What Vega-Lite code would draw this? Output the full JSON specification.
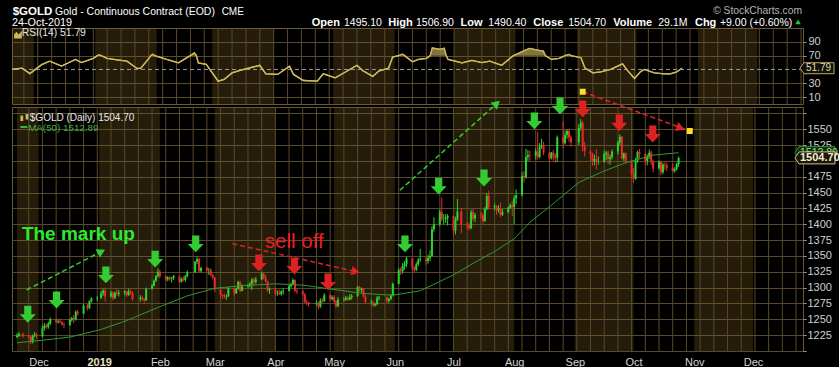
{
  "$schema": "https://vega.github.io/schema/vega-lite/v6.json",
  "autosize": {"type": "pad"},
  "padding": {"top": 5, "left": 8, "right": 0, "bottom": 0},
  "background": "#000000",
  "bounds": "flush",
  "spacing": 3,
  "config": {
    "font": "Liberation Sans",
    "view": {"stroke": "#6b5a36", "strokeWidth": 1},
    "axis": {"labelFont": "Liberation Sans", "labelColor": "#cfcfcf", "labelFontSize": 11, "gridColor": "#574a2c", "gridOpacity": 1, "gridWidth": 1, "domain": false, "tickColor": "#9a9a9a", "tickSize": 3, "labelFlush": false, "labelOverlap": false}
  },
  "datasets": {
    "mo": [
      {"d": "2018-11-20", "e": "2018-12-01"},
      {"d": "2019-01-01", "e": "2019-02-01"},
      {"d": "2019-03-01", "e": "2019-04-01"},
      {"d": "2019-05-01", "e": "2019-06-01"},
      {"d": "2019-07-01", "e": "2019-08-01"},
      {"d": "2019-09-01", "e": "2019-10-01"},
      {"d": "2019-11-01", "e": "2019-12-01"}
    ],
    "wk": [
      {"d": "2018-11-26"}, {"d": "2018-12-03"}, {"d": "2018-12-10"}, {"d": "2018-12-17"}, {"d": "2018-12-24"}, {"d": "2018-12-31"},
      {"d": "2019-01-07"}, {"d": "2019-01-14"}, {"d": "2019-01-21"}, {"d": "2019-01-28"}, {"d": "2019-02-04"}, {"d": "2019-02-11"},
      {"d": "2019-02-18"}, {"d": "2019-02-25"}, {"d": "2019-03-04"}, {"d": "2019-03-11"}, {"d": "2019-03-18"}, {"d": "2019-03-25"},
      {"d": "2019-04-01"}, {"d": "2019-04-08"}, {"d": "2019-04-15"}, {"d": "2019-04-22"}, {"d": "2019-04-29"}, {"d": "2019-05-06"},
      {"d": "2019-05-13"}, {"d": "2019-05-20"}, {"d": "2019-05-27"}, {"d": "2019-06-03"}, {"d": "2019-06-10"}, {"d": "2019-06-17"},
      {"d": "2019-06-24"}, {"d": "2019-07-01"}, {"d": "2019-07-08"}, {"d": "2019-07-15"}, {"d": "2019-07-22"}, {"d": "2019-07-29"},
      {"d": "2019-08-05"}, {"d": "2019-08-12"}, {"d": "2019-08-19"}, {"d": "2019-08-26"}, {"d": "2019-09-02"}, {"d": "2019-09-09"},
      {"d": "2019-09-16"}, {"d": "2019-09-23"}, {"d": "2019-09-30"}, {"d": "2019-10-07"}, {"d": "2019-10-14"}, {"d": "2019-10-21"},
      {"d": "2019-10-28"}, {"d": "2019-11-04"}, {"d": "2019-11-11"}, {"d": "2019-11-18"}, {"d": "2019-11-25"}, {"d": "2019-12-02"},
      {"d": "2019-12-09"}, {"d": "2019-12-16"}, {"d": "2019-12-23"}
    ],
    "px": [
      {"d":"2018-11-20","o":1222,"h":1228,"l":1220,"c":1224},
      {"d":"2018-11-21","o":1224,"h":1230,"l":1222,"c":1227},
      {"d":"2018-11-23","o":1227,"h":1229,"l":1221,"c":1223},
      {"d":"2018-11-26","o":1223,"h":1226,"l":1219,"c":1222},
      {"d":"2018-11-27","o":1222,"h":1224,"l":1211,"c":1214},
      {"d":"2018-11-28","o":1214,"h":1226,"l":1212,"c":1224},
      {"d":"2018-11-29","o":1224,"h":1230,"l":1222,"c":1226},
      {"d":"2018-11-30","o":1226,"h":1228,"l":1219,"c":1223},
      {"d":"2018-12-03","o":1223,"h":1240,"l":1222,"c":1236},
      {"d":"2018-12-04","o":1236,"h":1244,"l":1232,"c":1240},
      {"d":"2018-12-05","o":1240,"h":1243,"l":1235,"c":1238},
      {"d":"2018-12-06","o":1238,"h":1246,"l":1235,"c":1243},
      {"d":"2018-12-07","o":1243,"h":1253,"l":1241,"c":1250},
      {"d":"2018-12-10","o":1250,"h":1252,"l":1244,"c":1246},
      {"d":"2018-12-11","o":1246,"h":1250,"l":1243,"c":1247},
      {"d":"2018-12-12","o":1247,"h":1251,"l":1244,"c":1245},
      {"d":"2018-12-13","o":1245,"h":1247,"l":1240,"c":1242},
      {"d":"2018-12-14","o":1242,"h":1245,"l":1236,"c":1241},
      {"d":"2018-12-17","o":1241,"h":1251,"l":1240,"c":1249},
      {"d":"2018-12-18","o":1249,"h":1254,"l":1246,"c":1252},
      {"d":"2018-12-19","o":1252,"h":1257,"l":1244,"c":1250},
      {"d":"2018-12-20","o":1250,"h":1264,"l":1248,"c":1262},
      {"d":"2018-12-21","o":1262,"h":1265,"l":1256,"c":1259},
      {"d":"2018-12-24","o":1259,"h":1274,"l":1258,"c":1272},
      {"d":"2018-12-26","o":1272,"h":1274,"l":1264,"c":1268},
      {"d":"2018-12-27","o":1268,"h":1280,"l":1266,"c":1279},
      {"d":"2018-12-28","o":1279,"h":1285,"l":1276,"c":1283},
      {"d":"2018-12-31","o":1283,"h":1287,"l":1279,"c":1284},
      {"d":"2019-01-02","o":1284,"h":1295,"l":1282,"c":1291},
      {"d":"2019-01-03","o":1291,"h":1298,"l":1287,"c":1295},
      {"d":"2019-01-04","o":1295,"h":1300,"l":1278,"c":1286},
      {"d":"2019-01-07","o":1286,"h":1295,"l":1284,"c":1292},
      {"d":"2019-01-08","o":1292,"h":1294,"l":1280,"c":1284},
      {"d":"2019-01-09","o":1284,"h":1294,"l":1282,"c":1292},
      {"d":"2019-01-10","o":1292,"h":1298,"l":1287,"c":1290},
      {"d":"2019-01-11","o":1290,"h":1296,"l":1286,"c":1292},
      {"d":"2019-01-14","o":1292,"h":1296,"l":1288,"c":1294},
      {"d":"2019-01-15","o":1294,"h":1295,"l":1285,"c":1288},
      {"d":"2019-01-16","o":1288,"h":1298,"l":1287,"c":1294},
      {"d":"2019-01-17","o":1294,"h":1297,"l":1289,"c":1292},
      {"d":"2019-01-18","o":1292,"h":1294,"l":1279,"c":1282},
      {"d":"2019-01-22","o":1282,"h":1288,"l":1278,"c":1284},
      {"d":"2019-01-23","o":1284,"h":1287,"l":1279,"c":1282},
      {"d":"2019-01-24","o":1282,"h":1284,"l":1276,"c":1280},
      {"d":"2019-01-25","o":1280,"h":1300,"l":1279,"c":1298},
      {"d":"2019-01-28","o":1298,"h":1306,"l":1297,"c":1303},
      {"d":"2019-01-29","o":1303,"h":1313,"l":1302,"c":1311},
      {"d":"2019-01-30","o":1311,"h":1320,"l":1309,"c":1318},
      {"d":"2019-01-31","o":1318,"h":1330,"l":1316,"c":1325},
      {"d":"2019-02-01","o":1325,"h":1328,"l":1315,"c":1318},
      {"d":"2019-02-04","o":1318,"h":1319,"l":1310,"c":1313},
      {"d":"2019-02-05","o":1313,"h":1318,"l":1310,"c":1316},
      {"d":"2019-02-06","o":1316,"h":1318,"l":1311,"c":1314},
      {"d":"2019-02-07","o":1314,"h":1317,"l":1308,"c":1315},
      {"d":"2019-02-08","o":1315,"h":1320,"l":1312,"c":1318},
      {"d":"2019-02-11","o":1318,"h":1319,"l":1307,"c":1309},
      {"d":"2019-02-12","o":1309,"h":1316,"l":1308,"c":1314},
      {"d":"2019-02-13","o":1314,"h":1318,"l":1310,"c":1312},
      {"d":"2019-02-14","o":1312,"h":1320,"l":1309,"c":1318},
      {"d":"2019-02-15","o":1318,"h":1327,"l":1316,"c":1324},
      {"d":"2019-02-19","o":1324,"h":1342,"l":1323,"c":1341},
      {"d":"2019-02-20","o":1341,"h":1349,"l":1337,"c":1345},
      {"d":"2019-02-21","o":1345,"h":1347,"l":1323,"c":1326},
      {"d":"2019-02-22","o":1326,"h":1333,"l":1324,"c":1331},
      {"d":"2019-02-25","o":1331,"h":1333,"l":1325,"c":1328},
      {"d":"2019-02-26","o":1328,"h":1331,"l":1320,"c":1328},
      {"d":"2019-02-27","o":1328,"h":1330,"l":1318,"c":1320},
      {"d":"2019-02-28","o":1320,"h":1322,"l":1313,"c":1316},
      {"d":"2019-03-01","o":1316,"h":1317,"l":1293,"c":1297},
      {"d":"2019-03-04","o":1297,"h":1298,"l":1283,"c":1289},
      {"d":"2019-03-05","o":1289,"h":1290,"l":1282,"c":1287},
      {"d":"2019-03-06","o":1287,"h":1290,"l":1283,"c":1286},
      {"d":"2019-03-07","o":1286,"h":1289,"l":1281,"c":1287},
      {"d":"2019-03-08","o":1287,"h":1301,"l":1285,"c":1299},
      {"d":"2019-03-11","o":1299,"h":1300,"l":1287,"c":1291},
      {"d":"2019-03-12","o":1291,"h":1300,"l":1290,"c":1298},
      {"d":"2019-03-13","o":1298,"h":1311,"l":1297,"c":1309},
      {"d":"2019-03-14","o":1309,"h":1310,"l":1293,"c":1295},
      {"d":"2019-03-15","o":1295,"h":1305,"l":1294,"c":1302},
      {"d":"2019-03-18","o":1302,"h":1306,"l":1300,"c":1303},
      {"d":"2019-03-19","o":1303,"h":1309,"l":1300,"c":1306},
      {"d":"2019-03-20","o":1306,"h":1315,"l":1296,"c":1313},
      {"d":"2019-03-21","o":1313,"h":1316,"l":1303,"c":1309},
      {"d":"2019-03-22","o":1309,"h":1317,"l":1306,"c":1313},
      {"d":"2019-03-25","o":1313,"h":1325,"l":1312,"c":1322},
      {"d":"2019-03-26","o":1322,"h":1324,"l":1313,"c":1316},
      {"d":"2019-03-27","o":1316,"h":1320,"l":1308,"c":1310},
      {"d":"2019-03-28","o":1310,"h":1311,"l":1293,"c":1296},
      {"d":"2019-03-29","o":1296,"h":1300,"l":1290,"c":1298},
      {"d":"2019-04-01","o":1298,"h":1300,"l":1287,"c":1291},
      {"d":"2019-04-02","o":1291,"h":1296,"l":1287,"c":1292},
      {"d":"2019-04-03","o":1292,"h":1297,"l":1288,"c":1290},
      {"d":"2019-04-04","o":1290,"h":1296,"l":1287,"c":1294},
      {"d":"2019-04-05","o":1294,"h":1299,"l":1289,"c":1295},
      {"d":"2019-04-08","o":1295,"h":1304,"l":1294,"c":1302},
      {"d":"2019-04-09","o":1302,"h":1308,"l":1300,"c":1306},
      {"d":"2019-04-10","o":1306,"h":1315,"l":1304,"c":1312},
      {"d":"2019-04-11","o":1312,"h":1313,"l":1293,"c":1295},
      {"d":"2019-04-12","o":1295,"h":1298,"l":1290,"c":1294},
      {"d":"2019-04-15","o":1294,"h":1296,"l":1287,"c":1290},
      {"d":"2019-04-16","o":1290,"h":1291,"l":1276,"c":1277},
      {"d":"2019-04-17","o":1277,"h":1281,"l":1272,"c":1276},
      {"d":"2019-04-18","o":1276,"h":1278,"l":1270,"c":1274},
      {"d":"2019-04-22","o":1274,"h":1280,"l":1272,"c":1276},
      {"d":"2019-04-23","o":1276,"h":1278,"l":1266,"c":1270},
      {"d":"2019-04-24","o":1270,"h":1283,"l":1268,"c":1280},
      {"d":"2019-04-25","o":1280,"h":1284,"l":1276,"c":1279},
      {"d":"2019-04-26","o":1279,"h":1291,"l":1277,"c":1288},
      {"d":"2019-04-29","o":1288,"h":1290,"l":1279,"c":1282},
      {"d":"2019-04-30","o":1282,"h":1288,"l":1280,"c":1285},
      {"d":"2019-05-01","o":1285,"h":1288,"l":1276,"c":1278},
      {"d":"2019-05-02","o":1278,"h":1280,"l":1268,"c":1271},
      {"d":"2019-05-03","o":1271,"h":1285,"l":1269,"c":1281},
      {"d":"2019-05-06","o":1281,"h":1285,"l":1278,"c":1281},
      {"d":"2019-05-07","o":1281,"h":1287,"l":1279,"c":1284},
      {"d":"2019-05-08","o":1284,"h":1287,"l":1279,"c":1281},
      {"d":"2019-05-09","o":1281,"h":1290,"l":1280,"c":1285},
      {"d":"2019-05-10","o":1285,"h":1290,"l":1281,"c":1287},
      {"d":"2019-05-13","o":1287,"h":1303,"l":1285,"c":1301},
      {"d":"2019-05-14","o":1301,"h":1303,"l":1294,"c":1296},
      {"d":"2019-05-15","o":1296,"h":1300,"l":1292,"c":1298},
      {"d":"2019-05-16","o":1298,"h":1299,"l":1284,"c":1286},
      {"d":"2019-05-17","o":1286,"h":1289,"l":1275,"c":1277},
      {"d":"2019-05-20","o":1277,"h":1281,"l":1273,"c":1277},
      {"d":"2019-05-21","o":1277,"h":1279,"l":1269,"c":1272},
      {"d":"2019-05-22","o":1272,"h":1276,"l":1270,"c":1274},
      {"d":"2019-05-23","o":1274,"h":1287,"l":1272,"c":1284},
      {"d":"2019-05-24","o":1284,"h":1287,"l":1280,"c":1285},
      {"d":"2019-05-28","o":1285,"h":1286,"l":1276,"c":1279},
      {"d":"2019-05-29","o":1279,"h":1284,"l":1276,"c":1282},
      {"d":"2019-05-30","o":1282,"h":1290,"l":1280,"c":1288},
      {"d":"2019-05-31","o":1288,"h":1308,"l":1286,"c":1306},
      {"d":"2019-06-03","o":1306,"h":1331,"l":1305,"c":1328},
      {"d":"2019-06-04","o":1328,"h":1332,"l":1320,"c":1326},
      {"d":"2019-06-05","o":1326,"h":1339,"l":1322,"c":1334},
      {"d":"2019-06-06","o":1334,"h":1342,"l":1328,"c":1337},
      {"d":"2019-06-07","o":1337,"h":1349,"l":1332,"c":1346},
      {"d":"2019-06-10","o":1346,"h":1347,"l":1326,"c":1330},
      {"d":"2019-06-11","o":1330,"h":1334,"l":1324,"c":1328},
      {"d":"2019-06-12","o":1328,"h":1340,"l":1326,"c":1337},
      {"d":"2019-06-13","o":1337,"h":1347,"l":1334,"c":1344},
      {"d":"2019-06-14","o":1344,"h":1361,"l":1341,"c":1345},
      {"d":"2019-06-17","o":1345,"h":1349,"l":1336,"c":1342},
      {"d":"2019-06-18","o":1342,"h":1352,"l":1338,"c":1347},
      {"d":"2019-06-19","o":1347,"h":1359,"l":1342,"c":1350},
      {"d":"2019-06-20","o":1350,"h":1397,"l":1349,"c":1392},
      {"d":"2019-06-21","o":1392,"h":1411,"l":1388,"c":1400},
      {"d":"2019-06-24","o":1400,"h":1423,"l":1397,"c":1419},
      {"d":"2019-06-25","o":1419,"h":1442,"l":1405,"c":1408},
      {"d":"2019-06-26","o":1408,"h":1416,"l":1400,"c":1408},
      {"d":"2019-06-27","o":1408,"h":1416,"l":1402,"c":1410},
      {"d":"2019-06-28","o":1410,"h":1416,"l":1398,"c":1413},
      {"d":"2019-07-01","o":1413,"h":1414,"l":1382,"c":1390},
      {"d":"2019-07-02","o":1390,"h":1412,"l":1384,"c":1407},
      {"d":"2019-07-03","o":1407,"h":1440,"l":1405,"c":1420},
      {"d":"2019-07-05","o":1420,"h":1426,"l":1386,"c":1400},
      {"d":"2019-07-08","o":1400,"h":1404,"l":1392,"c":1398},
      {"d":"2019-07-09","o":1398,"h":1402,"l":1390,"c":1394},
      {"d":"2019-07-10","o":1394,"h":1423,"l":1392,"c":1419},
      {"d":"2019-07-11","o":1419,"h":1424,"l":1405,"c":1409},
      {"d":"2019-07-12","o":1409,"h":1418,"l":1403,"c":1415},
      {"d":"2019-07-15","o":1415,"h":1419,"l":1409,"c":1414},
      {"d":"2019-07-16","o":1414,"h":1417,"l":1401,"c":1405},
      {"d":"2019-07-17","o":1405,"h":1427,"l":1404,"c":1424},
      {"d":"2019-07-18","o":1424,"h":1449,"l":1422,"c":1445},
      {"d":"2019-07-19","o":1445,"h":1453,"l":1423,"c":1427},
      {"d":"2019-07-22","o":1427,"h":1433,"l":1422,"c":1429},
      {"d":"2019-07-23","o":1429,"h":1430,"l":1415,"c":1422},
      {"d":"2019-07-24","o":1422,"h":1430,"l":1418,"c":1425},
      {"d":"2019-07-25","o":1425,"h":1434,"l":1411,"c":1415},
      {"d":"2019-07-26","o":1415,"h":1424,"l":1413,"c":1419},
      {"d":"2019-07-29","o":1419,"h":1428,"l":1417,"c":1426},
      {"d":"2019-07-30","o":1426,"h":1433,"l":1424,"c":1430},
      {"d":"2019-07-31","o":1430,"h":1437,"l":1413,"c":1427},
      {"d":"2019-08-01","o":1427,"h":1446,"l":1400,"c":1441},
      {"d":"2019-08-02","o":1441,"h":1455,"l":1432,"c":1446},
      {"d":"2019-08-05","o":1446,"h":1482,"l":1444,"c":1476},
      {"d":"2019-08-06","o":1476,"h":1484,"l":1466,"c":1474},
      {"d":"2019-08-07","o":1474,"h":1519,"l":1472,"c":1506},
      {"d":"2019-08-08","o":1506,"h":1517,"l":1500,"c":1509},
      {"d":"2019-08-09","o":1509,"h":1516,"l":1500,"c":1508},
      {"d":"2019-08-12","o":1508,"h":1520,"l":1502,"c":1515},
      {"d":"2019-08-13","o":1515,"h":1546,"l":1502,"c":1506},
      {"d":"2019-08-14","o":1506,"h":1528,"l":1504,"c":1523},
      {"d":"2019-08-15","o":1523,"h":1535,"l":1519,"c":1525},
      {"d":"2019-08-16","o":1525,"h":1530,"l":1509,"c":1513},
      {"d":"2019-08-19","o":1513,"h":1514,"l":1500,"c":1504},
      {"d":"2019-08-20","o":1504,"h":1514,"l":1502,"c":1513},
      {"d":"2019-08-21","o":1513,"h":1517,"l":1500,"c":1509},
      {"d":"2019-08-22","o":1509,"h":1512,"l":1497,"c":1505},
      {"d":"2019-08-23","o":1505,"h":1540,"l":1498,"c":1537},
      {"d":"2019-08-26","o":1537,"h":1562,"l":1520,"c":1528},
      {"d":"2019-08-27","o":1528,"h":1548,"l":1526,"c":1541},
      {"d":"2019-08-28","o":1541,"h":1550,"l":1535,"c":1547},
      {"d":"2019-08-29","o":1547,"h":1551,"l":1530,"c":1537},
      {"d":"2019-08-30","o":1537,"h":1540,"l":1522,"c":1529},
      {"d":"2019-09-03","o":1529,"h":1558,"l":1525,"c":1552},
      {"d":"2019-09-04","o":1552,"h":1566,"l":1548,"c":1560},
      {"d":"2019-09-05","o":1560,"h":1563,"l":1515,"c":1523},
      {"d":"2019-09-06","o":1523,"h":1530,"l":1507,"c":1515},
      {"d":"2019-09-09","o":1515,"h":1518,"l":1500,"c":1511},
      {"d":"2019-09-10","o":1511,"h":1513,"l":1492,"c":1499},
      {"d":"2019-09-11","o":1499,"h":1510,"l":1493,"c":1503},
      {"d":"2019-09-12","o":1503,"h":1518,"l":1486,"c":1499},
      {"d":"2019-09-13","o":1499,"h":1507,"l":1494,"c":1499},
      {"d":"2019-09-16","o":1499,"h":1516,"l":1497,"c":1511},
      {"d":"2019-09-17","o":1511,"h":1516,"l":1501,"c":1513},
      {"d":"2019-09-18","o":1513,"h":1516,"l":1495,"c":1503},
      {"d":"2019-09-19","o":1503,"h":1510,"l":1494,"c":1506},
      {"d":"2019-09-20","o":1506,"h":1518,"l":1502,"c":1515},
      {"d":"2019-09-23","o":1515,"h":1532,"l":1510,"c":1529},
      {"d":"2019-09-24","o":1529,"h":1542,"l":1524,"c":1538},
      {"d":"2019-09-25","o":1538,"h":1539,"l":1502,"c":1504},
      {"d":"2019-09-26","o":1504,"h":1513,"l":1500,"c":1512},
      {"d":"2019-09-27","o":1512,"h":1513,"l":1496,"c":1500},
      {"d":"2019-09-30","o":1500,"h":1501,"l":1473,"c":1479},
      {"d":"2019-10-01","o":1479,"h":1489,"l":1465,"c":1472},
      {"d":"2019-10-02","o":1472,"h":1505,"l":1470,"c":1500},
      {"d":"2019-10-03","o":1500,"h":1516,"l":1497,"c":1514},
      {"d":"2019-10-04","o":1514,"h":1519,"l":1504,"c":1511},
      {"d":"2019-10-07","o":1511,"h":1512,"l":1493,"c":1500},
      {"d":"2019-10-08","o":1500,"h":1510,"l":1493,"c":1506},
      {"d":"2019-10-09","o":1506,"h":1518,"l":1503,"c":1513},
      {"d":"2019-10-10","o":1513,"h":1516,"l":1493,"c":1498},
      {"d":"2019-10-11","o":1498,"h":1502,"l":1482,"c":1488},
      {"d":"2019-10-14","o":1488,"h":1501,"l":1486,"c":1498},
      {"d":"2019-10-15","o":1498,"h":1500,"l":1477,"c":1482},
      {"d":"2019-10-16","o":1482,"h":1497,"l":1479,"c":1494},
      {"d":"2019-10-17","o":1494,"h":1498,"l":1486,"c":1493},
      {"d":"2019-10-18","o":1493,"h":1497,"l":1484,"c":1489},
      {"d":"2019-10-21","o":1489,"h":1496,"l":1482,"c":1484},
      {"d":"2019-10-22","o":1484,"h":1490,"l":1481,"c":1487},
      {"d":"2019-10-23","o":1487,"h":1497,"l":1485,"c":1495.1},
      {"d":"2019-10-24","o":1495.1,"h":1506.9,"l":1490.4,"c":1504.7}
    ],
    "ma": [
      {"d":"2018-11-20","m":1213},{"d":"2018-12-03","m":1217},{"d":"2018-12-17","m":1222},
      {"d":"2019-01-02","m":1234},{"d":"2019-01-15","m":1248},{"d":"2019-02-01","m":1270},
      {"d":"2019-02-15","m":1287},{"d":"2019-03-01","m":1299},{"d":"2019-03-15","m":1303},
      {"d":"2019-04-01","m":1306},{"d":"2019-04-15","m":1304},{"d":"2019-05-01","m":1297},
      {"d":"2019-05-15","m":1291},{"d":"2019-05-31","m":1288},{"d":"2019-06-14","m":1295},
      {"d":"2019-07-01","m":1320},{"d":"2019-07-12","m":1340},{"d":"2019-07-22","m":1357},
      {"d":"2019-08-01","m":1377},{"d":"2019-08-09","m":1403},{"d":"2019-08-20","m":1430},
      {"d":"2019-09-03","m":1466},{"d":"2019-09-16","m":1484},{"d":"2019-09-27","m":1497},
      {"d":"2019-10-11","m":1509},{"d":"2019-10-24","m":1512.89}
    ],
    "rsi": [
      {"d":"2018-11-20","r":50},{"d":"2018-11-25","r":52},{"d":"2018-11-29","r":44},{"d":"2018-12-05","r":57},
      {"d":"2018-12-09","r":62},{"d":"2018-12-15","r":55},{"d":"2018-12-22","r":64.5},{"d":"2018-12-25","r":60},
      {"d":"2018-12-31","r":66},{"d":"2019-01-02","r":70},{"d":"2019-01-03","r":71},{"d":"2019-01-04","r":70},
      {"d":"2019-01-07","r":66},{"d":"2019-01-12","r":64},{"d":"2019-01-17","r":62},{"d":"2019-01-22","r":51.5},
      {"d":"2019-01-24","r":52},{"d":"2019-01-28","r":66},{"d":"2019-01-29","r":70},{"d":"2019-01-30","r":72},
      {"d":"2019-01-31","r":70},{"d":"2019-02-06","r":64.5},{"d":"2019-02-09","r":62},{"d":"2019-02-12","r":59.6},
      {"d":"2019-02-15","r":65},{"d":"2019-02-18","r":70},{"d":"2019-02-20","r":74},{"d":"2019-02-21","r":70},
      {"d":"2019-02-22","r":59.6},{"d":"2019-02-26","r":57.3},{"d":"2019-03-04","r":33},{"d":"2019-03-07","r":35.6},
      {"d":"2019-03-11","r":45},{"d":"2019-03-15","r":48.6},{"d":"2019-03-25","r":56},{"d":"2019-03-28","r":43.7},
      {"d":"2019-04-03","r":42.8},{"d":"2019-04-09","r":54.8},{"d":"2019-04-11","r":42.8},{"d":"2019-04-16","r":34},
      {"d":"2019-04-23","r":33},{"d":"2019-04-26","r":43.7},{"d":"2019-05-02","r":38},{"d":"2019-05-07","r":46},
      {"d":"2019-05-13","r":56},{"d":"2019-05-16","r":48},{"d":"2019-05-21","r":40},{"d":"2019-05-24","r":47.6},
      {"d":"2019-05-29","r":52},{"d":"2019-05-31","r":68},{"d":"2019-06-03","r":70},{"d":"2019-06-05","r":72},
      {"d":"2019-06-06","r":70},{"d":"2019-06-10","r":61},{"d":"2019-06-13","r":64.5},{"d":"2019-06-17","r":66},
      {"d":"2019-06-19","r":70},{"d":"2019-06-20","r":81},{"d":"2019-06-24","r":79},{"d":"2019-06-26","r":80.5},
      {"d":"2019-06-27","r":70},{"d":"2019-06-28","r":64.5},{"d":"2019-07-05","r":59.6},{"d":"2019-07-10","r":63},
      {"d":"2019-07-15","r":60},{"d":"2019-07-19","r":62},{"d":"2019-07-25","r":56},{"d":"2019-07-30","r":68},
      {"d":"2019-07-31","r":70},{"d":"2019-08-05","r":76.5},{"d":"2019-08-08","r":80.5},{"d":"2019-08-12","r":78},
      {"d":"2019-08-15","r":76.5},{"d":"2019-08-16","r":70},{"d":"2019-08-19","r":64.5},{"d":"2019-08-23","r":66},
      {"d":"2019-08-26","r":70},{"d":"2019-08-28","r":71.8},{"d":"2019-08-29","r":70},{"d":"2019-09-03","r":67},
      {"d":"2019-09-05","r":52},{"d":"2019-09-09","r":45},{"d":"2019-09-13","r":46.6},{"d":"2019-09-18","r":50},
      {"d":"2019-09-24","r":58},{"d":"2019-09-26","r":50},{"d":"2019-09-30","r":37},{"d":"2019-10-03","r":46.6},
      {"d":"2019-10-05","r":50},{"d":"2019-10-10","r":45},{"d":"2019-10-15","r":43.7},{"d":"2019-10-18","r":43.7},
      {"d":"2019-10-21","r":46},{"d":"2019-10-24","r":51.79}
    ],
    "arr": [
      {"d":"2018-11-25T12:00:00Z","p":1258,"s":"buy"},
      {"d":"2018-12-10T05:00:00Z","p":1280.5,"s":"buy"},
      {"d":"2019-01-04T10:00:00Z","p":1320,"s":"buy"},
      {"d":"2019-01-29T14:00:00Z","p":1345,"s":"buy"},
      {"d":"2019-02-19T07:00:00Z","p":1369,"s":"buy"},
      {"d":"2019-03-23T14:00:00Z","p":1339,"s":"sell"},
      {"d":"2019-04-10T17:00:00Z","p":1334,"s":"sell"},
      {"d":"2019-04-27T22:00:00Z","p":1309,"s":"sell"},
      {"d":"2019-06-06T05:00:00Z","p":1369,"s":"buy"},
      {"d":"2019-06-23T10:00:00Z","p":1460,"s":"buy"},
      {"d":"2019-07-16T14:00:00Z","p":1473,"s":"buy"},
      {"d":"2019-08-11T07:00:00Z","p":1563,"s":"buy"},
      {"d":"2019-08-24T10:00:00Z","p":1586.6,"s":"buy"},
      {"d":"2019-09-05T00:00:00Z","p":1582,"s":"sell"},
      {"d":"2019-09-23T17:00:00Z","p":1560,"s":"sell"},
      {"d":"2019-10-10T19:00:00Z","p":1542.4,"s":"sell"}
    ],
    "tr": [
      {"d":"2018-11-24T22:00:00Z","p":1296.3,"g":"m1","t":"up"},
      {"d":"2019-01-02T03:00:00Z","p":1357,"g":"m1","t":"up"},
      {"d":"2019-06-03T14:00:00Z","p":1453.6,"g":"m2","t":"up"},
      {"d":"2019-07-23T03:00:00Z","p":1590.5,"g":"m2","t":"up"},
      {"d":"2019-03-10T00:00:00Z","p":1369.3,"g":"s1","t":"down"},
      {"d":"2019-05-12T00:00:00Z","p":1325.4,"g":"s1","t":"down"},
      {"d":"2019-09-05T00:00:00Z","p":1609.1,"g":"s2","t":"down"},
      {"d":"2019-10-29T17:00:00Z","p":1547.1,"g":"s2","t":"down"}
    ]
  },
  "vconcat": [
    {
      "width": 791,
      "height": 76,
      "layer": [
        {"data": {"name": "mo"}, "mark": {"type": "rect", "color": "#7a6120", "opacity": 0.3},
         "encoding": {"x": {"field": "d", "type": "temporal", "axis": null, "scale": {"type": "utc", "nice": false, "domain": [{"year": 2018, "month": 11, "date": 20, "utc": true}, {"year": 2019, "month": 12, "date": 24, "utc": true}]}}, "x2": {"field": "e"}}},
        {"data": {"name": "wk"}, "mark": {"type": "rule", "color": "#574a2c", "strokeWidth": 1},
         "encoding": {"x": {"field": "d", "type": "temporal", "axis": null}}},
        {"data": {"name": "rsi"}, "mark": {"type": "line", "color": "#cdb95c", "strokeWidth": 1.3},
         "encoding": {"x": {"field": "d", "type": "temporal", "axis": null},
                      "y": {"field": "r", "type": "quantitative", "scale": {"domain": [0, 110], "nice": false, "zero": false},
                            "axis": {"orient": "right", "values": [10, 30, 70, 90], "tickCount": 50, "format": "d", "grid": true, "ticks": true, "labelPadding": 2, "title": null, "labelOverlap": false, "labelFlush": false}}}},
        {"data": {"values": [{}]}, "mark": {"type": "rule", "color": "#9a9a9a", "strokeDash": [4, 3], "strokeWidth": 1},
         "encoding": {"y": {"datum": 50}}},
        {"data": {"name": "rsi"}, "transform": [{"filter": "datum.r >= 70"}], "mark": {"type": "area", "color": "#8a7a3e", "opacity": 0.95},
         "encoding": {"x": {"field": "d", "type": "temporal", "axis": null}, "y": {"field": "r", "type": "quantitative"}, "y2": {"datum": 70}}},
        {"data": {"name": "rsi"}, "mark": {"type": "line", "color": "#cdb95c", "strokeWidth": 1.3},
         "encoding": {"x": {"field": "d", "type": "temporal", "axis": null}, "y": {"field": "r", "type": "quantitative"}}},
        {"data": {"values": [{}]}, "mark": {"type": "point", "shape": "M-1,1 L-1,0 L-0.4,-0.7 L0.2,0 L1,-1 L1,1 Z", "filled": true, "color": "#cdb95c", "size": 60, "opacity": 1},
         "encoding": {"x": {"datum": {"year": 2018, "month": 11, "date": 23, "utc": true}, "axis": null}, "y": {"datum": 100.5}}},
        {"data": {"values": [{}]}, "mark": {"type": "text", "align": "left", "baseline": "alphabetic", "fontSize": 10.3, "color": "#e6e6e6"},
         "encoding": {"x": {"datum": {"year": 2018, "month": 11, "date": 24, "hours": 22, "utc": true}, "axis": null}, "y": {"datum": 97.7}, "text": {"value": "RSI(14) 51.79"}}},
        {"data": {"values": [{}]}, "mark": {"type": "text", "align": "left", "baseline": "alphabetic", "fontSize": 11.5, "fontWeight": "bold", "color": "#ffffff"},
         "encoding": {"x": {"datum": {"year": 2018, "month": 11, "date": 20, "hours": 8, "utc": true}, "axis": null}, "y": {"datum": 129.25}, "text": {"value": "$GOLD"}}},
        {"data": {"values": [{}]}, "mark": {"type": "text", "align": "left", "baseline": "alphabetic", "fontSize": 10.5, "color": "#ffffff"},
         "encoding": {"x": {"datum": {"year": 2018, "month": 12, "date": 11, "hours": 17, "utc": true}, "axis": null}, "y": {"datum": 129.25}, "text": {"value": "Gold - Continuous Contract (EOD)"}}},
        {"data": {"values": [{}]}, "mark": {"type": "text", "align": "left", "baseline": "alphabetic", "fontSize": 10, "color": "#ffffff"},
         "encoding": {"x": {"datum": {"year": 2019, "month": 3, "date": 5, "hours": 18, "utc": true}, "axis": null}, "y": {"datum": 129.25}, "text": {"value": "CME"}}},
        {"data": {"values": [{}]}, "mark": {"type": "text", "align": "left", "baseline": "alphabetic", "fontSize": 10.8, "color": "#ffffff"},
         "encoding": {"x": {"datum": {"year": 2018, "month": 11, "date": 20, "utc": true}, "axis": null}, "y": {"datum": 112.9}, "text": {"value": "24-Oct-2019"}}},
        {"data": {"values": [{}]}, "mark": {"type": "text", "align": "right", "baseline": "alphabetic", "fontSize": 10.3, "color": "#b4b4b4"},
         "encoding": {"x": {"datum": {"year": 2019, "month": 12, "date": 23, "hours": 12, "utc": true}, "axis": null}, "y": {"datum": 130.3}, "text": {"value": "© StockCharts.com"}}},
        {"data": {"values": [{}]}, "mark": {"type": "text", "align": "left", "baseline": "alphabetic", "fontSize": 11, "fontWeight": "bold", "color": "#ffffff"},
         "encoding": {"x": {"datum": {"year": 2019, "month": 4, "date": 20, "hours": 5, "utc": true}, "axis": null}, "y": {"datum": 113.2}, "text": {"value": "Open"}}},
        {"data": {"values": [{}]}, "mark": {"type": "text", "align": "left", "baseline": "alphabetic", "fontSize": 10.5, "color": "#ffffff"},
         "encoding": {"x": {"datum": {"year": 2019, "month": 5, "date": 6, "hours": 11, "utc": true}, "axis": null}, "y": {"datum": 113.2}, "text": {"value": "1495.10"}}},
        {"data": {"values": [{}]}, "mark": {"type": "text", "align": "left", "baseline": "alphabetic", "fontSize": 11, "fontWeight": "bold", "color": "#ffffff"},
         "encoding": {"x": {"datum": {"year": 2019, "month": 5, "date": 28, "hours": 19, "utc": true}, "axis": null}, "y": {"datum": 113.2}, "text": {"value": "High"}}},
        {"data": {"values": [{}]}, "mark": {"type": "text", "align": "left", "baseline": "alphabetic", "fontSize": 10.5, "color": "#ffffff"},
         "encoding": {"x": {"datum": {"year": 2019, "month": 6, "date": 11, "hours": 19, "utc": true}, "axis": null}, "y": {"datum": 113.2}, "text": {"value": "1506.90"}}},
        {"data": {"values": [{}]}, "mark": {"type": "text", "align": "left", "baseline": "alphabetic", "fontSize": 11, "fontWeight": "bold", "color": "#ffffff"},
         "encoding": {"x": {"datum": {"year": 2019, "month": 7, "date": 4, "hours": 7, "utc": true}, "axis": null}, "y": {"datum": 113.2}, "text": {"value": "Low"}}},
        {"data": {"values": [{}]}, "mark": {"type": "text", "align": "left", "baseline": "alphabetic", "fontSize": 10.5, "color": "#ffffff"},
         "encoding": {"x": {"datum": {"year": 2019, "month": 7, "date": 18, "hours": 7, "utc": true}, "axis": null}, "y": {"datum": 113.2}, "text": {"value": "1490.40"}}},
        {"data": {"values": [{}]}, "mark": {"type": "text", "align": "left", "baseline": "alphabetic", "fontSize": 11, "fontWeight": "bold", "color": "#ffffff"},
         "encoding": {"x": {"datum": {"year": 2019, "month": 8, "date": 9, "hours": 23, "utc": true}, "axis": null}, "y": {"datum": 113.2}, "text": {"value": "Close"}}},
        {"data": {"values": [{}]}, "mark": {"type": "text", "align": "left", "baseline": "alphabetic", "fontSize": 10.5, "color": "#ffffff"},
         "encoding": {"x": {"datum": {"year": 2019, "month": 8, "date": 27, "hours": 14, "utc": true}, "axis": null}, "y": {"datum": 113.2}, "text": {"value": "1504.70"}}},
        {"data": {"values": [{}]}, "mark": {"type": "text", "align": "left", "baseline": "alphabetic", "fontSize": 11, "fontWeight": "bold", "color": "#ffffff"},
         "encoding": {"x": {"datum": {"year": 2019, "month": 9, "date": 19, "hours": 7, "utc": true}, "axis": null}, "y": {"datum": 113.2}, "text": {"value": "Volume"}}},
        {"data": {"values": [{}]}, "mark": {"type": "text", "align": "left", "baseline": "alphabetic", "fontSize": 10.5, "color": "#ffffff"},
         "encoding": {"x": {"datum": {"year": 2019, "month": 10, "date": 12, "utc": true}, "axis": null}, "y": {"datum": 113.2}, "text": {"value": "29.1M"}}},
        {"data": {"values": [{}]}, "mark": {"type": "text", "align": "left", "baseline": "alphabetic", "fontSize": 11, "fontWeight": "bold", "color": "#ffffff"},
         "encoding": {"x": {"datum": {"year": 2019, "month": 10, "date": 30, "hours": 12, "utc": true}, "axis": null}, "y": {"datum": 113.2}, "text": {"value": "Chg"}}},
        {"data": {"values": [{}]}, "mark": {"type": "text", "align": "left", "baseline": "alphabetic", "fontSize": 10.5, "color": "#ffffff"},
         "encoding": {"x": {"datum": {"year": 2019, "month": 11, "date": 12, "hours": 2, "utc": true}, "axis": null}, "y": {"datum": 113.2}, "text": {"value": "+9.00 (+0.60%)"}}},
        {"data": {"values": [{}]}, "mark": {"type": "point", "shape": "triangle-up", "filled": true, "color": "#22cc22", "size": 30, "opacity": 1},
         "encoding": {"x": {"datum": {"year": 2019, "month": 12, "date": 21, "hours": 12, "utc": true}, "axis": null}, "y": {"datum": 118.7}}},
        {"data": {"values": [{}]}, "mark": {"type": "point", "shape": "M-0.3,0 L0.1,-0.55 L3.1,-0.55 L3.1,0.55 L0.1,0.55 Z", "filled": true, "fill": "#111108", "stroke": "#bba864", "strokeWidth": 1, "size": 400, "opacity": 1},
         "encoding": {"x": {"datum": {"year": 2019, "month": 12, "date": 24, "utc": true}, "axis": null}, "y": {"datum": 51.79}}},
        {"data": {"values": [{}]}, "mark": {"type": "text", "align": "left", "baseline": "middle", "fontSize": 10, "color": "#e0d8b0", "dx": 3},
         "encoding": {"x": {"datum": {"year": 2019, "month": 12, "date": 24, "utc": true}, "axis": null}, "y": {"datum": 51.79}, "text": {"value": "51.79"}}}
      ]
    },
    {
      "width": 791,
      "height": 244,
      "layer": [
        {"data": {"name": "mo"}, "mark": {"type": "rect", "color": "#7a6120", "opacity": 0.3},
         "encoding": {"x": {"field": "d", "type": "temporal",
                            "scale": {"type": "utc", "nice": false, "domain": [{"year": 2018, "month": 11, "date": 20, "utc": true}, {"year": 2019, "month": 12, "date": 24, "utc": true}]},
                            "axis": {"title": null, "grid": false, "ticks": false, "labelPadding": 5, "labelAlign": "center", "labelOverlap": false, "labelFlush": false, "tickCount": 50,
                                     "values": [{"year": 2018, "month": 12, "date": 1, "utc": true}, {"year": 2019, "month": 1, "date": 1, "utc": true}, {"year": 2019, "month": 2, "date": 1, "utc": true}, {"year": 2019, "month": 3, "date": 1, "utc": true}, {"year": 2019, "month": 4, "date": 1, "utc": true}, {"year": 2019, "month": 5, "date": 1, "utc": true}, {"year": 2019, "month": 6, "date": 1, "utc": true}, {"year": 2019, "month": 7, "date": 1, "utc": true}, {"year": 2019, "month": 8, "date": 1, "utc": true}, {"year": 2019, "month": 9, "date": 1, "utc": true}, {"year": 2019, "month": 10, "date": 1, "utc": true}, {"year": 2019, "month": 11, "date": 1, "utc": true}, {"year": 2019, "month": 12, "date": 1, "utc": true}],
                                     "labelExpr": "utcmonth(datum.value) == 0 ? utcFormat(datum.value, '%Y') : utcFormat(datum.value, '%b')",
                                     "labelFontWeight": {"condition": {"test": "utcmonth(datum.value) == 0", "value": "bold"}, "value": "normal"},
                                     "labelColor": {"condition": {"test": "utcmonth(datum.value) == 0", "value": "#e8e2c0"}, "value": "#d4d4d4"}}},
                      "x2": {"field": "e"}}},
        {"data": {"name": "wk"}, "mark": {"type": "rule", "color": "#574a2c", "strokeWidth": 1},
         "encoding": {"x": {"field": "d", "type": "temporal"}}},
        {"data": {"name": "px"}, "mark": {"type": "rule", "strokeWidth": 1},
         "encoding": {"x": {"field": "d", "type": "temporal"},
                      "y": {"field": "l", "type": "quantitative", "scale": {"domain": [1200, 1585], "nice": false, "zero": false},
                            "axis": {"orient": "right", "title": null, "format": "d", "tickCount": 50, "values": [1200, 1225, 1250, 1275, 1300, 1325, 1350, 1375, 1400, 1425, 1450, 1475, 1500, 1525, 1550, 1575], "labelExpr": "datum.value < 1210 || datum.value > 1560 ? '' : datum.label", "grid": true, "ticks": true, "labelPadding": 1, "labelOverlap": false, "labelFlush": false}},
                      "y2": {"field": "h"},
                      "color": {"condition": {"test": "datum.c >= datum.o", "value": "#2bd42b"}, "value": "#e82a2a"}}},
        {"data": {"name": "px"}, "mark": {"type": "bar", "size": 2},
         "encoding": {"x": {"field": "d", "type": "temporal"},
                      "y": {"field": "o", "type": "quantitative"},
                      "y2": {"field": "c"},
                      "color": {"condition": {"test": "datum.c >= datum.o", "value": "#2bd42b"}, "value": "#e82a2a"}}},
        {"data": {"name": "ma"}, "mark": {"type": "line", "color": "#2f9a2f", "strokeWidth": 1},
         "encoding": {"x": {"field": "d", "type": "temporal"}, "y": {"field": "m", "type": "quantitative"}}},
        {"data": {"name": "tr"}, "mark": {"type": "line", "strokeDash": [5, 3], "strokeWidth": 1.5},
         "encoding": {"x": {"field": "d", "type": "temporal"}, "y": {"field": "p", "type": "quantitative"},
                      "detail": {"field": "g"},
                      "color": {"field": "t", "type": "nominal", "scale": {"domain": ["up", "down"], "range": ["#33cc33", "#dd2222"]}, "legend": null}}},
        {"data": {"values": [{}]}, "mark": {"type": "point", "shape": "triangle-up", "filled": true, "color": "#33cc33", "size": 90, "angle": 63, "opacity": 1},
         "encoding": {"x": {"datum": {"year": 2019, "month": 1, "date": 2, "hours": 3, "utc": true}}, "y": {"datum": 1357}}},
        {"data": {"values": [{}]}, "mark": {"type": "point", "shape": "triangle-up", "filled": true, "color": "#33cc33", "size": 90, "angle": 48, "opacity": 1},
         "encoding": {"x": {"datum": {"year": 2019, "month": 7, "date": 23, "hours": 3, "utc": true}}, "y": {"datum": 1590.5}}},
        {"data": {"values": [{}]}, "mark": {"type": "point", "shape": "triangle-up", "filled": true, "color": "#dd2222", "size": 90, "angle": 102.5, "opacity": 1},
         "encoding": {"x": {"datum": {"year": 2019, "month": 5, "date": 12, "utc": true}}, "y": {"datum": 1325.4}}},
        {"data": {"values": [{}]}, "mark": {"type": "point", "shape": "triangle-up", "filled": true, "color": "#dd2222", "size": 90, "angle": 110, "opacity": 1},
         "encoding": {"x": {"datum": {"year": 2019, "month": 10, "date": 25, "utc": true}}, "y": {"datum": 1551.9}}},
        {"data": {"name": "tr"}, "transform": [{"filter": "datum.g == 's2'"}], "mark": {"type": "point", "shape": "square", "filled": true, "color": "#ffdd22", "size": 36, "opacity": 1},
         "encoding": {"x": {"field": "d", "type": "temporal"}, "y": {"field": "p", "type": "quantitative"}}},
        {"data": {"name": "arr"}, "mark": {"type": "point", "shape": "M-0.45,-1.05 L0.45,-1.05 L0.45,0 L1,0 L0,1.05 L-1,0 L-0.45,0 Z", "filled": true, "size": 256, "opacity": 1},
         "encoding": {"x": {"field": "d", "type": "temporal"}, "y": {"field": "p", "type": "quantitative"},
                      "color": {"field": "s", "type": "nominal", "scale": {"domain": ["buy", "sell"], "range": ["#22ee22", "#ee1c1c"]}, "legend": null}}},
        {"data": {"values": [{}]}, "mark": {"type": "text", "align": "left", "baseline": "alphabetic", "fontSize": 19, "fontWeight": "bold", "color": "#2eea2e"},
         "encoding": {"x": {"datum": {"year": 2018, "month": 11, "date": 22, "hours": 12, "utc": true}}, "y": {"datum": 1375.6}, "text": {"value": "The mark up"}}},
        {"data": {"values": [{}]}, "mark": {"type": "text", "align": "left", "baseline": "alphabetic", "fontSize": 20.5, "color": "#f01e1e"},
         "encoding": {"x": {"datum": {"year": 2019, "month": 3, "date": 26, "hours": 14, "utc": true}}, "y": {"datum": 1363}, "text": {"value": "sell off"}}},
        {"data": {"values": [{}]}, "mark": {"type": "point", "shape": "M-1,-0.5 L-0.3,-0.5 L-0.3,0.9 L-1,0.9 Z M0.3,-0.9 L1,-0.9 L1,0.5 L0.3,0.5 Z", "filled": true, "color": "#cdb95c", "size": 64, "opacity": 1},
         "encoding": {"x": {"datum": {"year": 2018, "month": 11, "date": 23, "hours": 19, "utc": true}}, "y": {"datum": 1568.4}}},
        {"data": {"values": [{}]}, "mark": {"type": "text", "align": "left", "baseline": "alphabetic", "fontSize": 10, "color": "#e8e8e8"},
         "encoding": {"x": {"datum": {"year": 2018, "month": 11, "date": 26, "hours": 13, "utc": true}}, "y": {"datum": 1562.9}, "text": {"value": "$GOLD (Daily) 1504.70"}}},
        {"data": {"values": [{}]}, "mark": {"type": "point", "shape": "stroke", "color": "#3cb43c", "strokeWidth": 2, "size": 49, "opacity": 1},
         "encoding": {"x": {"datum": {"year": 2018, "month": 11, "date": 23, "hours": 12, "utc": true}}, "y": {"datum": 1553.4}}},
        {"data": {"values": [{}]}, "mark": {"type": "text", "align": "left", "baseline": "alphabetic", "fontSize": 9.8, "color": "#40b040"},
         "encoding": {"x": {"datum": {"year": 2018, "month": 11, "date": 25, "hours": 17, "utc": true}}, "y": {"datum": 1547.9}, "text": {"value": "MA(50) 1512.89"}}},
        {"data": {"values": [{}]}, "mark": {"type": "point", "shape": "M-0.3,0 L0.1,-0.6 L3.7,-0.6 L3.7,0.6 L0.1,0.6 Z", "filled": true, "fill": "#0c2a0c", "stroke": "#2f9a2f", "strokeWidth": 1, "size": 400, "opacity": 1},
         "encoding": {"x": {"datum": {"year": 2019, "month": 12, "date": 24, "utc": true}}, "y": {"datum": 1512.89}}},
        {"data": {"values": [{}]}, "mark": {"type": "text", "align": "left", "baseline": "middle", "fontSize": 10.5, "color": "#9fd89f", "dx": 2},
         "encoding": {"x": {"datum": {"year": 2019, "month": 12, "date": 24, "utc": true}}, "y": {"datum": 1512.89}, "text": {"value": "1512.89"}}},
        {"data": {"values": [{}]}, "mark": {"type": "point", "shape": "M-0.3,0 L0.1,-0.6 L3.7,-0.6 L3.7,0.6 L0.1,0.6 Z", "filled": true, "fill": "#1a1808", "stroke": "#cfc08a", "strokeWidth": 1, "size": 400, "opacity": 1},
         "encoding": {"x": {"datum": {"year": 2019, "month": 12, "date": 24, "utc": true}}, "y": {"datum": 1504.7}}},
        {"data": {"values": [{}]}, "mark": {"type": "text", "align": "left", "baseline": "middle", "fontSize": 11, "fontWeight": "bold", "color": "#f2ecd0", "dx": 2},
         "encoding": {"x": {"datum": {"year": 2019, "month": 12, "date": 24, "utc": true}}, "y": {"datum": 1504.7}, "text": {"value": "1504.70"}}}
      ]
    }
  ]
}
